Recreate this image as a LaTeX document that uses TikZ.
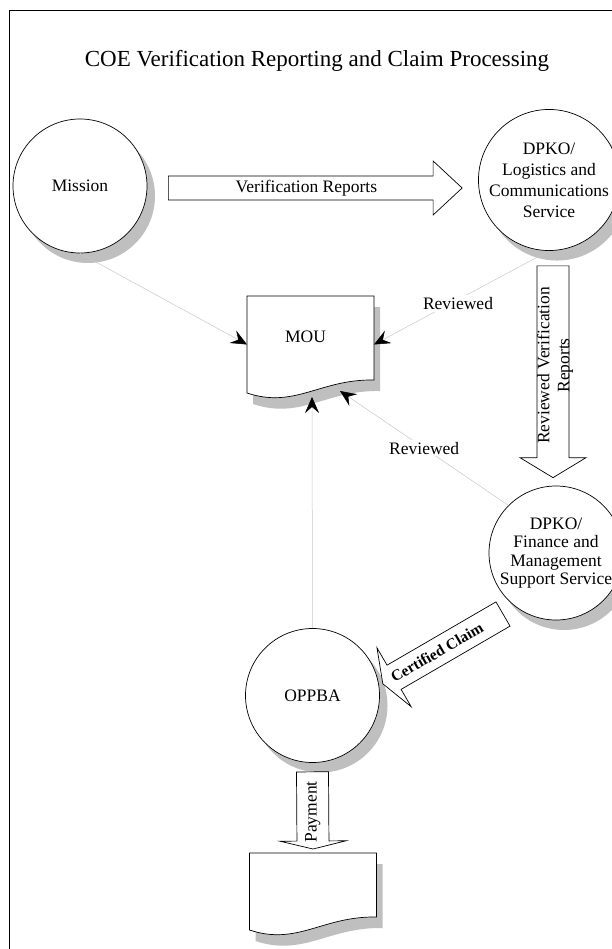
\documentclass[tikz,border=0pt]{standalone}
\usepackage{fontspec}
\setmainfont{Liberation Serif}
\usetikzlibrary{arrows.meta,calc,shadows}
\newcommand{\fatarrow}[5]{%
  \coordinate (#1-h) at ($(#2)!#5!(#1)$);
  \draw[flow] ($(#1)!#3!90:(#2)$) -- ($(#1-h)!#3!90:(#2)$) -- ($(#1-h)!#4!90:(#2)$) -- (#2)
    -- ($(#1-h)!#4!-90:(#2)$) -- ($(#1-h)!#3!-90:(#2)$) -- ($(#1)!#3!-90:(#2)$) -- cycle;}
\newcommand{\docpath}[2]{($(#1.north west)+(#2)$) -- ($(#1.north east)+(#2)$)
  -- ($(#1.south east)+(#2)+(0,-13)$) .. controls ($(#1.south east)+(#2)+(-54,-14)$)
  and ($(#1.south west)+(#2)+(48,16)$) .. ($(#1.south west)+(#2)$) -- cycle}

\begin{document}
\begin{tikzpicture}[x=1pt, y=-1pt,
  >={Stealth[length=16pt, width=14pt, inset=6pt, color=black]},
  unit/.style={circle, draw, fill=white, minimum size=134pt, inner sep=0pt, line width=0.7pt,
               align=center, font=\fontsize{17.5}{21}\selectfont,
               drop shadow={shadow xshift=8pt, shadow yshift=-10pt, fill=black!25, opacity=1}},
  doc/.style={minimum width=127pt, inner sep=0pt, outer sep=0pt},
  flow/.style={draw, fill=white, line width=0.7pt},
  lbl/.style={font=\fontsize{17.5}{20}\selectfont, align=center},
  tag/.style={lbl, text=black, fill=white, inner sep=2pt},
  link/.style={->, black!22, line width=0.5pt}
]
\useasboundingbox (0,0) rectangle (612,949);
\clip (0,0) rectangle (612,949);
\draw[line width=1.5pt] (9.5,10.5) rectangle (700,1000);
\node[font=\fontsize{23}{27}\selectfont] (title) at (317,61) {COE Verification Reporting and Claim Processing};

\node[unit] (mission) at (80,186) {Mission};
\node[unit] (lcs) at (549,180) {DPKO/\\Logistics and\\Communications\\Service};
\node[unit, font=\fontsize{17.5}{18.5}\selectfont] (fmss) at (556,553) {DPKO/\\Finance and\\Management\\Support Service};
\node[unit] (oppba) at (312.5,695.5) {OPPBA};

\node[doc, minimum height=97pt] (mou) at (310.5,344.5) {};
\fill[black!25] \docpath{mou}{6,11};
\draw[fill=white, line width=0.7pt] \docpath{mou}{0,0};
\node[lbl] (mou-t) at ($(mou)+(-5,-8)$) {MOU};
\node[doc, minimum height=77pt] (paid) at (313,891.5) {};
\fill[black!25] \docpath{paid}{6,11};
\draw[fill=white, line width=0.7pt] \docpath{paid}{0,0};

\coordinate (vr-a) at ($(mission.east)+(21,2)$);
\coordinate (vr-b) at ($(lcs.west)+(-16,8)$);
\fatarrow{vr-a}{vr-b}{12pt}{27pt}{29pt}
\node[lbl] (vr) at ($(vr-a)!.47!(vr-b)$) {Verification Reports};

\coordinate (rv-a) at ($(lcs.south)+(4,15)$);
\coordinate (rv-b) at ($(fmss.north)+(-3,-8)$);
\fatarrow{rv-a}{rv-b}{16pt}{33pt}{20pt}
\node[lbl, rotate=90, yshift=-2pt] (rv) at ($(rv-a)!.47!(rv-b)$) {Reviewed Verification\\Reports};

\coordinate (cc-a) at ($(fmss)+(-53,61)$);
\coordinate (cc-b) at ($(oppba.10)+(4,0)$);
\fatarrow{cc-a}{cc-b}{14pt}{34pt}{13pt}
\node[font=\fontsize{15.5}{18}\selectfont\bfseries, rotate=30] (cc) at ($(cc-a)!.55!(cc-b)$) {Certified Claim};

\coordinate (py-a) at ($(oppba.south)+(0,9)$);
\coordinate (py-b) at ($(paid.north)+(0,-4)$);
\fatarrow{py-a}{py-b}{16pt}{33pt}{8pt}
\node[lbl, rotate=90] (py) at ($(py-a)!.52!(py-b)$) {Payment};

\coordinate (mou-b1) at ($(mou.south)+(1.5,4)$);
\coordinate (mou-b2) at ($(mou.south)+(29.5,-2)$);
\draw[link] (mission.south) -- (mou.west);
\draw[link] (lcs.south) -- node[tag, pos=.52, yshift=-4pt] (rev1) {Reviewed} (mou.east);
\draw[link] (oppba.north) -- (mou-b1);
\draw[link] (fmss.north west) -- node[tag, pos=.5] (rev2) {Reviewed} (mou-b2);
\end{tikzpicture}
\end{document}
